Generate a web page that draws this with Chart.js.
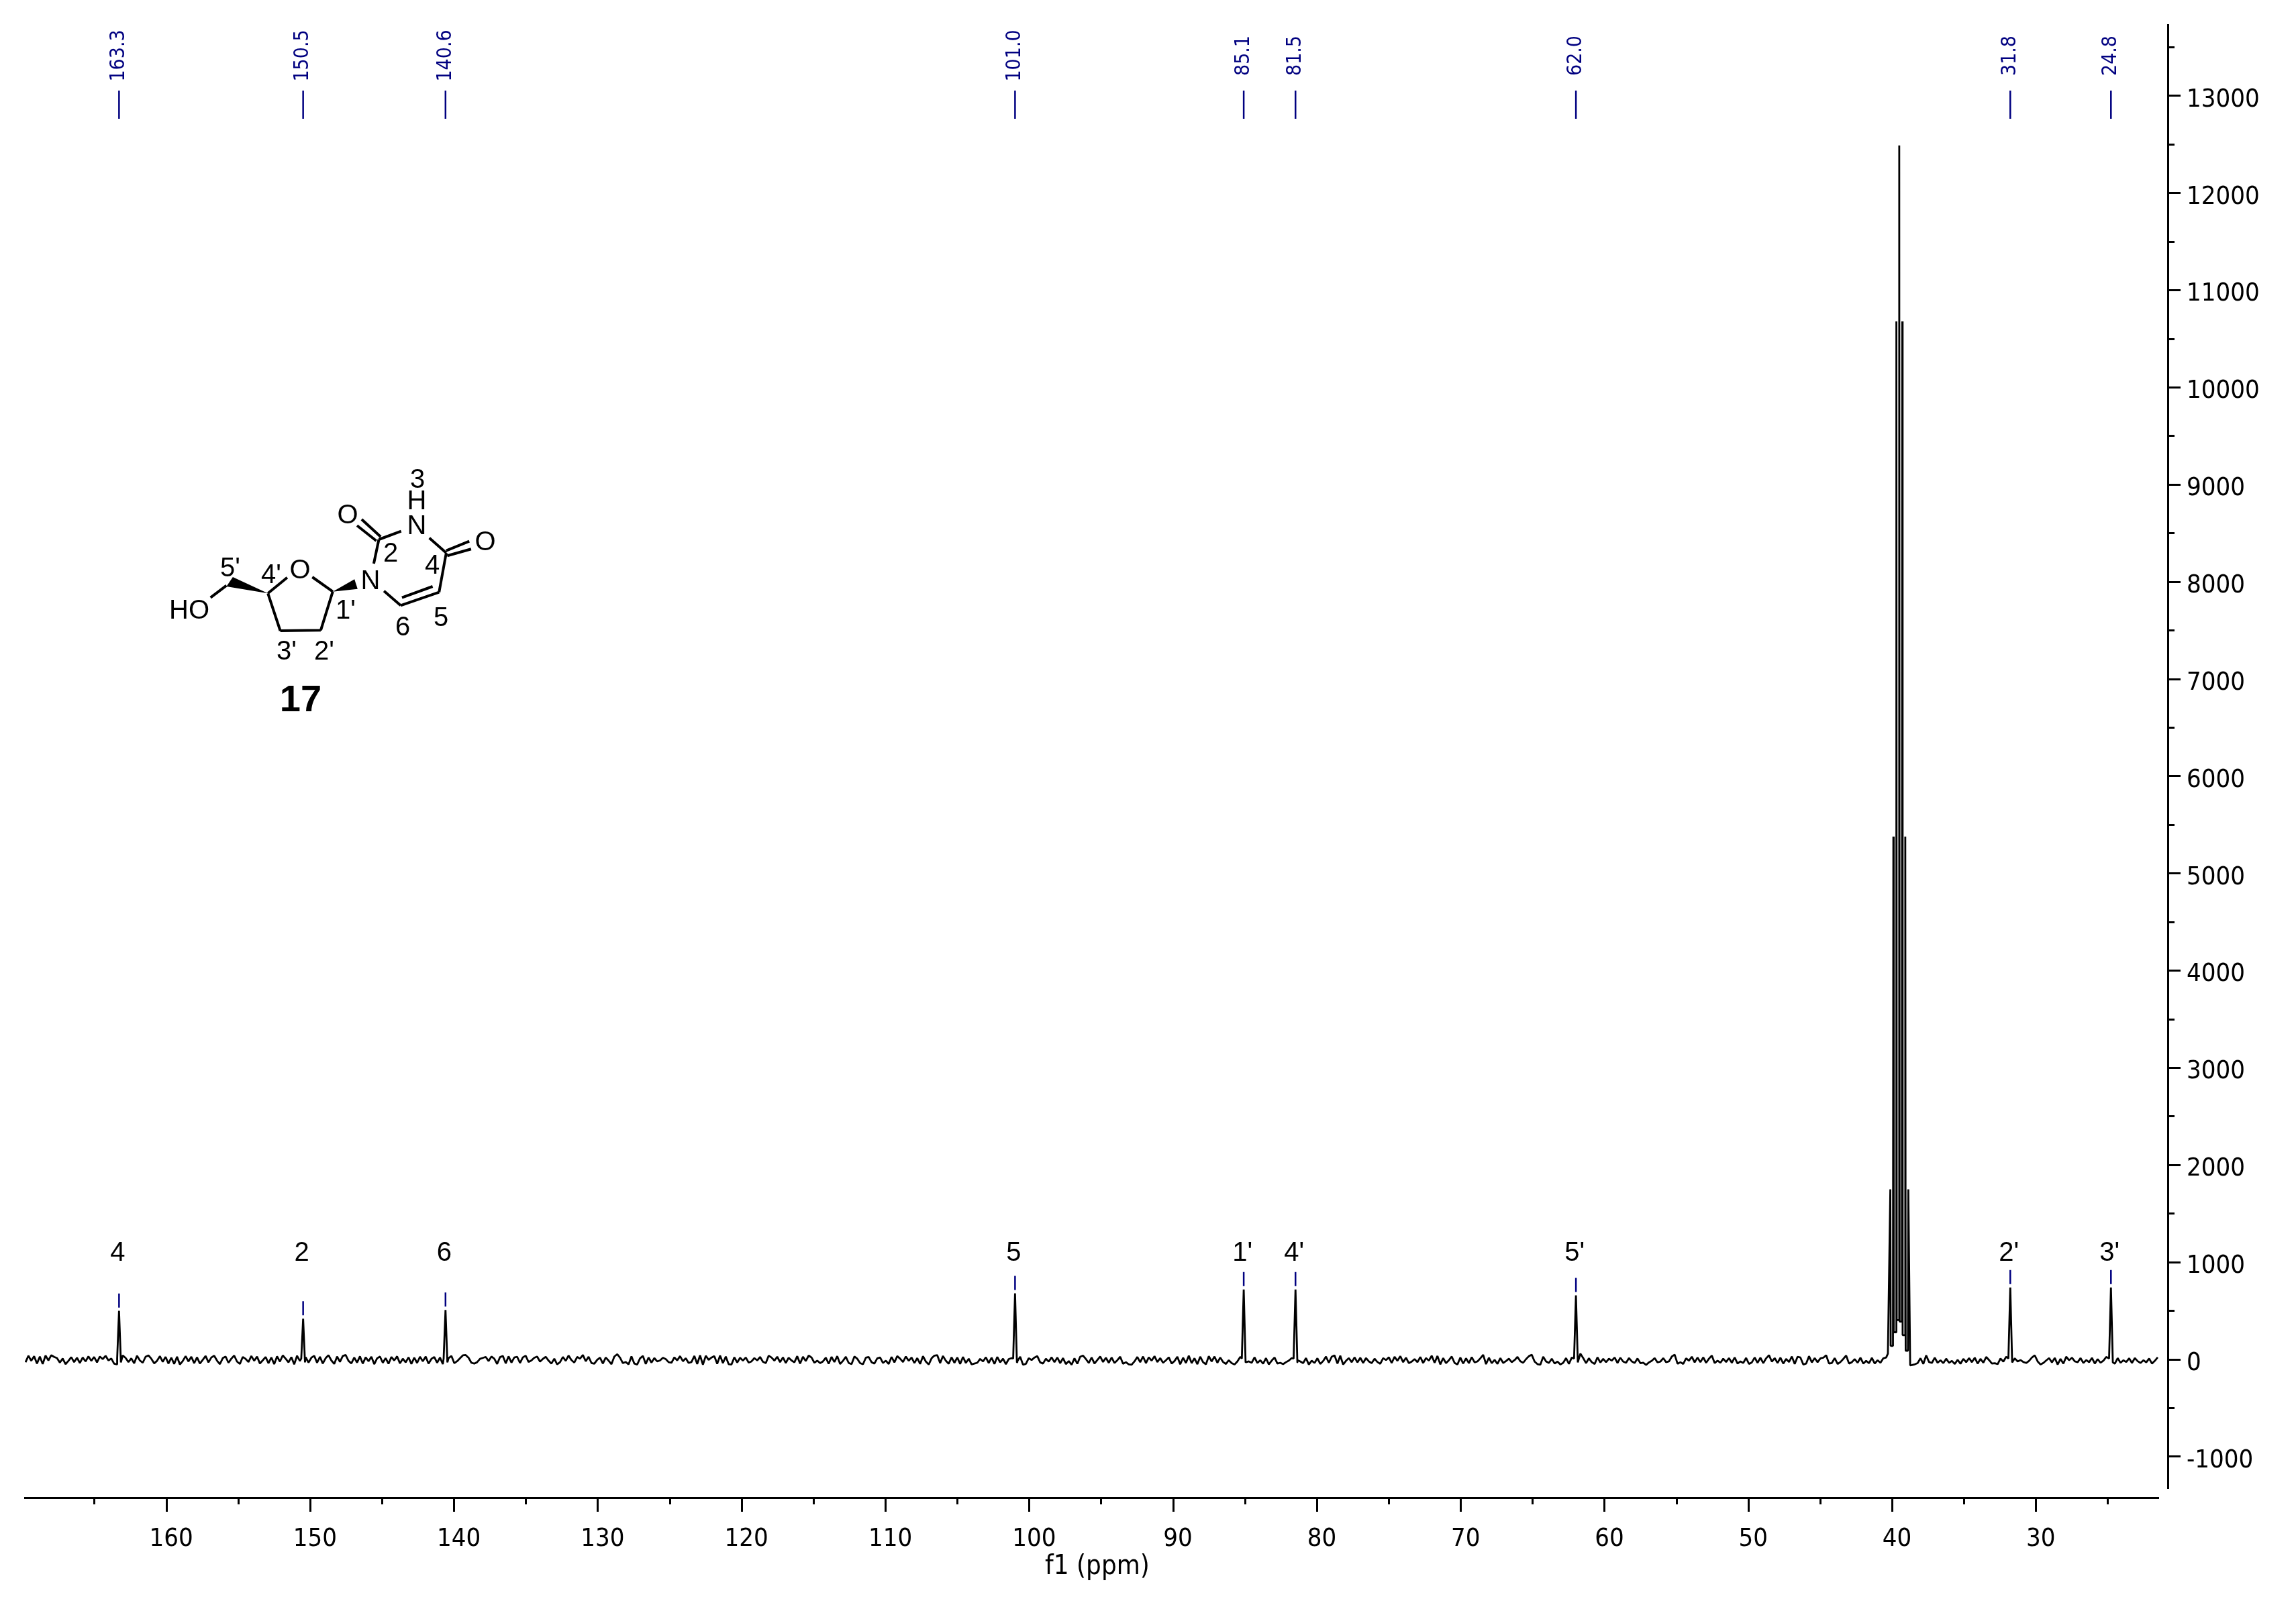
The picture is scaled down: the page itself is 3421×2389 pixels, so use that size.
<!DOCTYPE html>
<html lang="en">
  <head>
    <meta charset="UTF-8" />
    <title>13C NMR 17</title>
    <script src="https://cdn.jsdelivr.net/npm/chart.js"></script>
    <style>
      body { margin: 0; background: #fff; }
      canvas { display: block; }
    </style>
  </head>
  <body>
    <canvas id="spectrum" width="3421" height="2389"></canvas>
    <script>
      // picked peaks
      const peakPpm = [163.3, 150.5, 140.6, 101.0, 85.1, 81.5, 62.0, 31.8, 24.8];
      const peakTop = [500, 420, 510, 680, 720, 720, 660, 740, 740];
      const peakAssign = ["4", "2", "6", "5", "1'", "4'", "5'", "2'", "3'"];

      // DMSO septet, spikes and the flat valleys between them
      const solventPpm = [40.31, 40.14, 40.115, 39.955, 39.93, 39.905, 39.745, 39.72, 39.695, 39.545, 39.52, 39.495, 39.335, 39.31, 39.285, 39.125, 39.10, 39.075, 38.915, 38.89, 38.76];
      const solventValue = [60, 1750, 140, 140, 5380, 280, 280, 10680, 405, 405, 12490, 390, 390, 10680, 250, 250, 5380, 90, 90, 1750, -60];

      // axis ticks
      const xTicks = [160, 150, 140, 130, 120, 110, 100, 90, 80, 70, 60, 50, 40, 30];
      const xMinorTicks = [165, 155, 145, 135, 125, 115, 105, 95, 85, 75, 65, 55, 45, 35, 25];
      const yTicks = [13000, 12000, 11000, 10000, 9000, 8000, 7000, 6000, 5000, 4000, 3000, 2000, 1000, 0, -1000];
      const yMinorTicks = [13500, 12500, 11500, 10500, 9500, 8500, 7500, 6500, 5500, 4500, 3500, 2500, 1500, 500, -500];

      // baseline noise, left to right
      const noiseA = [
        -28,38,-14,34,-42,30,-46,40,-10,44,26,14,-32,10,-48,-14,24,-28,18,-36,
        20,-20,32,-14,26,-30,30,4,38,-10,10,-44,-50,6,42,16,-26,12,-40,38,
        -10,-34,28,42,8,-40,-14,34,-24,26,-42,18,-46,28,-52,-16,34,-20,28,-38,
        22,-42,-4,36,-30,20,38,-12,-48,14,30,-34,8,40,-22,-46,26,6,-26,36,
        -14,30,-42,-8,26,-38,20,-48,32,-22,42,8,-30,24,-50,38,-16,-44,24,-32,
        18,38,-34,28,-42,14,44,-10,-46,30,-24,36,46,-14,-40,20,-32,32,-42,22,
        -18,28,-48,12,30,-34,14,-44,26,-10,32,-40,8,-30,22,-46,18,-36,28,-18,
        30,-42,6,26,-34,20,-48,-12,14,36
      ];
      const noiseB = [
        -38,-18,12,42,46,18,-34,-42,-28,6,16,26,-16,30,8,-46,24,36,-40,32,
        -32,20,28,-36,22,38,-26,-10,18,30,-22,6,28,-12,-42,8,-50,-28,26,-14,
        40,-6,-32,26,8,46,-18,28,-36,-44,-4,18,-42,20,-12,-48,30,54,18,-38,
        -26,-50,32,-42,-52,12,36,-46,20,-32,14,-20,-10,18,4,-28,-34,22,-10,34,
        -18,12,-36,-26,36,-46,42,-54,38,-4,20,34,-44,40,-38,30,-48,-52,22,-32,
        18,-12,20,-32,-20,14,-10,26,-24,-38,38,20,-12,28,-28,22,-36,18,-10,-30,
        34,-42,28,-16,40,20,-34,-12,-38,-20,18,-44,26,-26,34,-46,-14,28,-36,-48,
        30,8,-38,-50,18,26,-28,-42,12,20
      ];
      const noiseC = [
        -36,-12,-46,26,-30,34,8,-26,30,-14,20,-36,14,-46,34,-22,-52,12,40,44,
        -38,36,-14,-44,22,-34,20,-46,26,-36,8,-50,-42,-34,6,-20,22,-36,18,-46,
        26,-30,8,-48,4,14,-26,-18,28,-54,-46,14,-6,20,34,-30,-42,8,-22,22,
        -28,20,-38,14,-48,-16,-54,12,-44,28,40,4,-36,20,-42,-6,30,-26,18,-34,
        20,-36,-8,28,-44,-28,-50,-54,-20,26,-28,30,-38,22,-12,34,-26,14,-34,-8,
        22,-42,-16,28,-50,18,-36,38,-38,12,-48,28,-28,-50,34,-20,30,-34,20,-26,
        -46,-8,-38,-52,-20,26,44,-28,-20,-34,22,-36,-8,-44,14,-50,-12,20,-42,-34,
        -48,-28,-12,14,40,-6,-20,-38,14,-52
      ];
      const noiseD = [
        -12,-36,12,-46,-16,30,-34,28,42,-42,38,-52,-14,14,-28,22,-30,18,-36,14,
        -20,-38,8,-26,-44,14,-6,22,-36,28,-14,34,-28,18,-38,-22,4,-28,26,-36,
        14,-12,38,-34,36,-50,14,-38,-8,30,-36,-52,20,-42,12,-38,24,-30,-20,12,
        48,-48,18,-38,-4,-46,14,-36,-16,8,-28,-6,26,-18,-34,4,34,48,-22,-48,
        -54,28,-20,-36,8,-42,-22,-52,-34,14,-46,20,-50,52,60,14,-38,12,-28,-46,
        22,-32,6,-28,8,-12,20,-36,18,-22,-34,14,-20,-36,10,-38,-34,-56,-30,-14,
        14,-30,-22,14,-28,-20,30,50,-44,-28,-46,12,-12,28,-30,20,-28,22,-34,8,
        40,-38,-12,-34,8,-26,14,-34,20,-42
      ];
      const noiseE = [
        -20,-36,16,-46,-30,20,-34,18,-38,12,44,-22,14,-36,18,-42,6,-26,30,-46,
        28,20,-52,-42,34,-30,14,-28,12,18,44,-42,-36,14,-46,-26,6,40,-42,-28,
        4,-34,18,-42,-14,-38,16,-42,-8,-34,12,20,38,0,0,0,0,0,0,0,
        -58,-50,-38,12,-46,42,-26,-36,18,-34,-8,-38,8,-34,-14,-46,-4,-44,6,-28,
        14,-28,18,-42,6,-34,26,-6,-42,-38,-48,10,-22,28,40,-8,12,-20,-6,-26,
        -36,-14,20,42,-20,-52,-36,-10,14,-30,16,-52,6,-42,28,-8,18,-20,-28,14,
        -36,-6,-28,16,-42,4,-34,-12,26,30,-28,-44,14,-34,-8,-26,12,-36,14,-18,
        -36,-8,-30,10,-42,-14,22
      ];

      const PPM_LEFT = 169.85;
      const PPM_RIGHT = 21.5;
      const NOISE_LEFT = 169.8;
      const NOISE_RIGHT = 21.55;
      const Y_MIN = -1325;
      const Y_MAX = 13731;
      const X_AXIS_AT = -1422; // the ppm axis sits a bit below the end of the intensity axis
      const PEAK_FOOT = 0.13;

      const TICK_FONT = { family: '"DejaVu Sans Condensed", "DejaVu Sans"', size: 38 };
      const NAVY = "#000080";
      const ARIAL = '"Liberation Sans"';

      // baseline + peaks + septet, ordered by ppm
      function buildSpectrum() {
        const noise = noiseA.concat(noiseB, noiseC, noiseD, noiseE);
        const step = (NOISE_LEFT - NOISE_RIGHT) / (noise.length - 1);
        let points = [];
        noise.forEach(function (v, i) {
          const ppm = NOISE_LEFT - i * step;
          const inSolvent = ppm < 40.31 && ppm > 38.76;
          const onPeak = peakPpm.some(function (p) {
            return Math.abs(p - ppm) < PEAK_FOOT;
          });
          if (!inSolvent && !onPeak) points.push({ x: ppm, y: v });
        });
        peakPpm.forEach(function (p, i) {
          points.push({ x: p + PEAK_FOOT, y: 10 });
          points.push({ x: p, y: peakTop[i] });
          points.push({ x: p - PEAK_FOOT, y: -30 });
        });
        solventPpm.forEach(function (p, i) {
          points.push({ x: p, y: solventValue[i] });
        });
        points.sort(function (a, b) {
          return b.x - a.x;
        });
        return points;
      }

      function setTicks(values) {
        return function (scale) {
          scale.ticks = values.map(function (v) {
            return { value: v };
          });
        };
      }

      function xScaleOptions(values, tickLength, showLabels) {
        return {
          type: "linear",
          axis: "x",
          reverse: true,
          min: PPM_RIGHT,
          max: PPM_LEFT,
          position: { y: X_AXIS_AT },
          afterFit: function (scale) {
            scale.height = 0;
          },
          afterBuildTicks: setTicks(values),
          border: { display: showLabels, color: "#000", width: 3 },
          grid: { drawOnChartArea: false, tickLength: tickLength, tickWidth: 3, tickColor: "#000" },
          ticks: {
            display: showLabels,
            autoSkip: false,
            maxRotation: 0,
            color: "#000",
            font: TICK_FONT,
            padding: 20,
            labelOffset: 7,
          },
        };
      }

      function yScaleOptions(values, tickLength, showLabels) {
        return {
          type: "linear",
          axis: "y",
          position: "right",
          min: Y_MIN,
          max: Y_MAX,
          afterFit: function (scale) {
            scale.width = showLabels ? 205 : 0;
          },
          afterBuildTicks: setTicks(values),
          border: { display: showLabels, color: "#000", width: 3 },
          grid: { drawOnChartArea: false, tickLength: tickLength, tickWidth: 3, tickColor: "#000" },
          ticks: {
            display: showLabels,
            autoSkip: false,
            color: "#000",
            font: TICK_FONT,
            padding: 9,
            labelOffset: 6,
            callback: function (value) {
              return String(value);
            },
          },
        };
      }

      function drawText(ctx, text, x, y, font, color) {
        ctx.font = font;
        ctx.fillStyle = color || "#000";
        ctx.textAlign = "center";
        ctx.textBaseline = "middle";
        ctx.fillText(text, x, y);
      }

      function drawBonds(ctx, bonds) {
        ctx.beginPath();
        bonds.forEach(function (b) {
          ctx.moveTo(b[0], b[1]);
          ctx.lineTo(b[2], b[3]);
        });
        ctx.stroke();
      }

      function drawWedge(ctx, tip, a, b) {
        ctx.beginPath();
        ctx.moveTo(tip[0], tip[1]);
        ctx.lineTo(a[0], a[1]);
        ctx.lineTo(b[0], b[1]);
        ctx.closePath();
        ctx.fill();
      }

      // compound 17
      function drawMolecule(ctx) {
        ctx.save();
        ctx.strokeStyle = "#000";
        ctx.fillStyle = "#000";
        ctx.lineWidth = 4;
        drawBonds(ctx, [
          [337.4, 872.7, 313.7, 890.7],
          [399.2, 884.3, 427.9, 860.7],
          [465.3, 860, 495.8, 881.7],
          [495.8, 881.7, 477.9, 939.3],
          [477.9, 939.3, 417.6, 940],
          [417.6, 940, 399.2, 884.3],
          [556.9, 840, 564.5, 804],
          [564.5, 804, 597.7, 791.7],
          [560.7, 806, 532, 783.3],
          [567.2, 800, 538.9, 774],
          [639.7, 801.7, 664.9, 824],
          [664.9, 820.7, 699.2, 806.7],
          [666.4, 828.3, 701.9, 818.3],
          [664.9, 824, 654.2, 882.7],
          [654.2, 882.7, 596.9, 902.3],
          [644.6, 874, 598.9, 890.7],
          [596.9, 902.3, 572.1, 880.7],
        ]);
        drawWedge(ctx, [399.2, 884.3], [346.9, 860], [337.4, 874]);
        drawWedge(ctx, [495.8, 881.7], [528.2, 863.3], [532.8, 877.7]);

        const font = "40px " + ARIAL;
        const labels = [
          ["HO", 282, 911], ["O", 447, 851], ["N", 552, 867], ["N", 621, 785], ["H", 621, 748],
          ["O", 518, 769], ["O", 723, 809], ["3", 622, 716], ["5'", 343, 848], ["4'", 404, 858],
          ["2", 582, 826], ["4", 644, 844], ["1'", 515, 911], ["6", 600, 936], ["5", 657, 922],
          ["3'", 427, 972], ["2'", 483, 972],
        ];
        labels.forEach(function (l) {
          drawText(ctx, l[0], l[1], l[2], font);
        });
        drawText(ctx, "17", 448, 1045, "bold 56px " + ARIAL);
        ctx.restore();
      }

      const annotationPlugin = {
        id: "annotations",
        afterLayout: function (chart) {
          // intensity axis stands a little to the right of the plot
          [chart.scales.y, chart.scales.yMinor].forEach(function (s) {
            const width = s.right - s.left;
            s.left = 3230;
            s.right = 3230 + width;
          });
        },
        afterDraw: function (chart) {
          const ctx = chart.ctx;
          const x = chart.scales.x;
          const y = chart.scales.y;
          ctx.save();
          peakPpm.forEach(function (p, i) {
            const px = x.getPixelForValue(p);
            const top = y.getPixelForValue(peakTop[i]);
            ctx.strokeStyle = NAVY;
            ctx.lineWidth = 2.5;
            ctx.beginPath();
            ctx.moveTo(px, 135);
            ctx.lineTo(px, 177);
            ctx.moveTo(px, top - 26);
            ctx.lineTo(px, top - 5);
            ctx.stroke();

            ctx.save();
            ctx.translate(px, 83);
            ctx.rotate(-Math.PI / 2);
            drawText(ctx, p.toFixed(1), 0, 0, '30px "DejaVu Sans Condensed", "DejaVu Sans"', NAVY);
            ctx.restore();

            drawText(ctx, peakAssign[i], px - 2, 1868, "40px " + ARIAL);
          });
          drawText(ctx, "f1 (ppm)", 1635, 2336, '40px "DejaVu Sans Condensed", "DejaVu Sans"');
          drawMolecule(ctx);
          ctx.restore();
        },
      };

      new Chart(document.getElementById("spectrum").getContext("2d"), {
        type: "line",
        data: {
          datasets: [
            {
              data: buildSpectrum(),
              borderColor: "#000",
              borderWidth: 2.8,
              borderJoinStyle: "bevel",
              pointRadius: 0,
              tension: 0,
              fill: false,
              xAxisID: "x",
              yAxisID: "y",
            },
          ],
        },
        options: {
          responsive: false,
          animation: false,
          events: [],
          layout: { padding: { left: 37, top: 37, right: 0, bottom: 171 } },
          plugins: { legend: { display: false }, tooltip: { enabled: false } },
          scales: {
            x: xScaleOptions(xTicks, 19, true),
            xMinor: xScaleOptions(xMinorTicks, 10, false),
            y: yScaleOptions(yTicks, 19, true),
            yMinor: yScaleOptions(yMinorTicks, 10, false),
          },
        },
        plugins: [annotationPlugin],
      });
    </script>
  </body>
</html>
